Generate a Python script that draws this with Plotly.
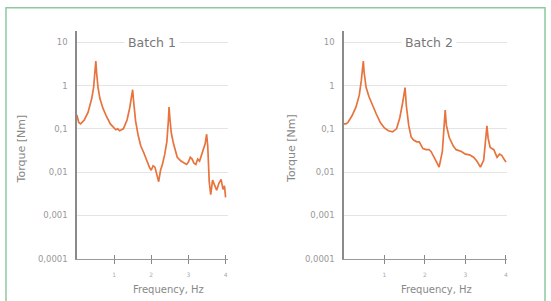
import plotly.graph_objects as go

# ---- data ----
batch1_freq = [0.0, 0.05, 0.1, 0.2, 0.3, 0.4, 0.45, 0.49, 0.51, 0.53, 0.57, 0.62, 0.7, 0.8, 0.9,
               1.0, 1.05, 1.1, 1.15, 1.25, 1.35, 1.42, 1.47, 1.5, 1.53, 1.58, 1.65, 1.72, 1.8,
               1.88, 1.95, 2.0, 2.05, 2.1, 2.15, 2.2, 2.25, 2.3, 2.36, 2.42, 2.46, 2.48, 2.5,
               2.54, 2.6, 2.7, 2.8, 2.9, 2.95, 3.0, 3.05, 3.1, 3.15, 3.2, 3.25, 3.3, 3.35, 3.4,
               3.45, 3.49, 3.52, 3.56, 3.6, 3.65, 3.7, 3.76, 3.82, 3.88, 3.93, 3.97, 4.0]
batch1_torque = [0.21, 0.14, 0.13, 0.16, 0.24, 0.5, 0.9, 2.2, 3.7, 2.0, 0.9, 0.5, 0.3, 0.19, 0.13,
                 0.105, 0.095, 0.1, 0.09, 0.1, 0.16, 0.3, 0.55, 0.8, 0.4, 0.15, 0.07, 0.04, 0.028,
                 0.018, 0.013, 0.011, 0.014, 0.013, 0.009, 0.006, 0.011, 0.015, 0.025, 0.05, 0.15,
                 0.32, 0.18, 0.08, 0.045, 0.022, 0.018, 0.016, 0.015, 0.017, 0.022, 0.02, 0.016,
                 0.015, 0.02, 0.018, 0.024, 0.03, 0.045, 0.075, 0.04, 0.006, 0.003, 0.0065, 0.005,
                 0.0038, 0.0055, 0.0068, 0.004, 0.0048, 0.0026]

batch2_freq = [0.0, 0.05, 0.1, 0.2, 0.3, 0.38, 0.43, 0.46, 0.48, 0.5, 0.55, 0.62, 0.7, 0.8, 0.9,
               1.0, 1.1, 1.2, 1.3, 1.38, 1.45, 1.51, 1.54, 1.6, 1.66, 1.72, 1.8, 1.86, 1.95, 2.03,
               2.1, 2.15, 2.25, 2.35, 2.43, 2.47, 2.5, 2.53, 2.6, 2.7, 2.77, 2.9, 3.0, 3.1, 3.2,
               3.28, 3.37, 3.45, 3.5, 3.53, 3.56, 3.61, 3.7, 3.78, 3.84, 3.9, 3.95, 4.0]
batch2_torque = [0.13, 0.13, 0.14, 0.2, 0.32, 0.6, 1.3, 2.5, 3.7, 2.0, 0.9, 0.55, 0.35, 0.22, 0.14,
                 0.105, 0.09, 0.085, 0.1, 0.18, 0.4, 0.9, 0.35, 0.12, 0.065, 0.055, 0.05, 0.05,
                 0.035, 0.033, 0.033, 0.03, 0.02, 0.013, 0.03, 0.1, 0.27, 0.12, 0.063, 0.04,
                 0.033, 0.03, 0.026, 0.025, 0.022, 0.018, 0.013, 0.019, 0.05, 0.117, 0.06, 0.037,
                 0.033, 0.022, 0.026, 0.024, 0.02, 0.017]

y_tickvals = [0.0001, 0.001, 0.01, 0.1, 1, 10]
y_ticktext = ["0,0001", "0,001", "0,01", "0,1", "1", "10"]
x_tickvals = [1, 2, 3, 4]
x_ticktext = ["1", "2", "3", "4"]
titles = ["Batch 1", "Batch 2"]

W, H = 551, 301
LINE = "#e8733c"
FONT = "DejaVu Sans"

fig = go.Figure()
fig.add_trace(go.Scatter(x=batch1_freq, y=batch1_torque, mode="lines",
                         line=dict(color=LINE, width=1.7), xaxis="x", yaxis="y",
                         showlegend=False, hoverinfo="skip"))
fig.add_trace(go.Scatter(x=batch2_freq, y=batch2_torque, mode="lines",
                         line=dict(color=LINE, width=1.7), xaxis="x2", yaxis="y2",
                         showlegend=False, hoverinfo="skip"))
# invisible traces for overlay tick axes (ticks crossing the axis line)
fig.add_trace(go.Scatter(x=[None], y=[None], xaxis="x3", yaxis="y", showlegend=False))
fig.add_trace(go.Scatter(x=[None], y=[None], xaxis="x4", yaxis="y2", showlegend=False))

ydom = [(H - 263) / H, (H - 32) / H]
dom1 = [77 / W, 228 / W]
dom2 = [344.5 / W, 508 / W]
xr1 = [0, 151 / 37.25]
xr2 = [0, 163.5 / 40.6]

def xaxis(dom, rng, anchor):
    return dict(domain=dom, range=rng, anchor=anchor, tickvals=x_tickvals, ticktext=x_ticktext,
                ticks="outside", ticklen=4, tickwidth=1, tickcolor="#888",
                ticklabelstandoff=6,
                tickfont=dict(family=FONT, size=6, color="#aaa"),
                showline=True, linecolor="#999", linewidth=1, showgrid=False, zeroline=False,
                fixedrange=True)

def xover(dom, rng, anchor, over):
    return dict(domain=dom, range=rng, anchor=anchor, overlaying=over, tickvals=x_tickvals,
                ticks="inside", ticklen=4, tickwidth=1, tickcolor="#888",
                showticklabels=False, showline=False, showgrid=False, zeroline=False)

def yaxis(anchor):
    return dict(domain=ydom, type="log", range=[-4, 1.25], anchor=anchor,
                tickvals=y_tickvals, ticktext=y_ticktext, ticks="",
                ticklabelstandoff=6,
                tickfont=dict(family=FONT, size=8.5, color="#999"),
                showline=True, linecolor="#8a8a8a", linewidth=1.5,
                showgrid=True, gridcolor="#e4e4e4", gridwidth=1, zeroline=False)

fig.update_layout(
    width=W, height=H, margin=dict(l=0, r=0, t=0, b=0),
    paper_bgcolor="white", plot_bgcolor="white", hovermode=False,
    xaxis=xaxis(dom1, xr1, "y"), yaxis=yaxis("x"),
    xaxis2=xaxis(dom2, xr2, "y2"), yaxis2=yaxis("x2"),
    xaxis3=xover(dom1, xr1, "y", "x"), xaxis4=xover(dom2, xr2, "y2", "x2"),
)

anns = []
for i, (cx, tx, fx) in enumerate([(152, 22, 169), (430, 292, 437)]):
    anns.append(dict(text=titles[i], x=cx / W, y=(H - 43) / H, xref="paper", yref="paper",
                     showarrow=False, font=dict(family=FONT, size=12.5, color="#777"),
                     bgcolor="white", borderpad=3, xanchor="center", yanchor="middle"))
    anns.append(dict(text="Torque [Nm]", x=tx / W, y=(H - 151) / H, xref="paper", yref="paper",
                     showarrow=False, textangle=-90, font=dict(family=FONT, size=11, color="#888"),
                     xanchor="center", yanchor="middle"))
    anns.append(dict(text="Frequency, Hz", x=fx / W, y=(H - 294) / H, xref="paper", yref="paper",
                     showarrow=False, font=dict(family=FONT, size=10, color="#888"),
                     xanchor="center", yanchor="middle"))
fig.update_layout(annotations=anns)

fig.add_shape(type="rect", xref="paper", yref="paper", x0=6 / W, x1=546 / W,
              y0=-0.2, y1=(H - 8) / H, line=dict(color="#8ec9a0", width=1.5))

fig.write_html("out.html", config={"displayModeBar": False, "staticPlot": True},
               post_script="document.body.style.margin='0';document.body.style.overflow='hidden';")
